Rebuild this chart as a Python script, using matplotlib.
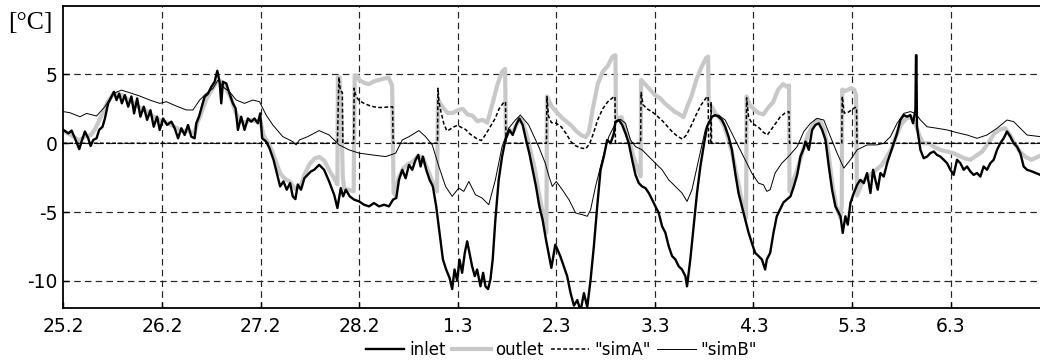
import matplotlib
matplotlib.use("Agg")
import matplotlib.pyplot as plt

# ---- data (days since 25.2) ----
xtick_pos = [0, 1, 2, 3, 4, 5, 6, 7, 8, 9]
xtick_labels = ['25.2', '26.2', '27.2', '28.2', '1.3', '2.3', '3.3', '4.3', '5.3', '6.3']
ytick_pos = [-10, -5, 0, 5]
ytick_labels = ['-10', '-5', '0', '5']

inlet_t = [0.000, 0.051, 0.084, 0.118, 0.162, 0.185, 0.219, 0.253, 0.277, 0.304, 0.337, 0.364, 0.398, 0.422,
           0.455, 0.489, 0.513, 0.540, 0.567, 0.594, 0.624, 0.658, 0.691, 0.718, 0.749, 0.782, 0.816, 0.850,
           0.884, 0.917, 0.951, 0.978, 1.012, 1.052, 1.096, 1.130, 1.164, 1.197, 1.231, 1.265, 1.298, 1.332,
           1.349, 1.376, 1.400, 1.433, 1.467, 1.501, 1.535, 1.562, 1.585, 1.602, 1.619, 1.653, 1.686, 1.720,
           1.747, 1.771, 1.804, 1.838, 1.872, 1.906, 1.939, 1.973, 1.997, 2.017, 2.057, 2.091, 2.132, 2.165,
           2.199, 2.233, 2.266, 2.300, 2.327, 2.354, 2.378, 2.411, 2.445,
           2.511, 2.544, 2.595, 2.645, 2.696, 2.747, 2.780, 2.814, 2.838, 2.865, 2.905, 2.949, 3.000, 3.050,
           3.101, 3.151, 3.202, 3.253, 3.303, 3.344, 3.377, 3.404, 3.438, 3.472, 3.506, 3.539, 3.573, 3.600,
           3.624, 3.647, 3.681, 3.715, 3.748, 3.782, 3.816, 3.850, 3.883, 3.917, 3.944, 3.968, 3.995, 4.018,
           4.045, 4.072, 4.096, 4.119, 4.146, 4.173, 4.197, 4.231, 4.258, 4.281, 4.308, 4.332, 4.355, 4.382,
           4.416, 4.450, 4.484, 4.524, 4.558, 4.592, 4.625, 4.659, 4.693, 4.726, 4.760, 4.794, 4.828, 4.861,
           4.895, 4.950, 4.990, 5.040, 5.110, 5.145, 5.179, 5.213, 5.246, 5.280, 5.314, 5.348, 5.381, 5.415,
           5.449, 5.482, 5.516, 5.550, 5.584, 5.600, 5.634, 5.668, 5.702, 5.735, 5.769, 5.803, 5.837, 5.870,
           5.904, 5.938, 5.972, 6.005, 6.039, 6.073, 6.106, 6.140, 6.174, 6.208, 6.241, 6.275, 6.309, 6.326,
           6.359, 6.393, 6.427, 6.461, 6.494, 6.528, 6.579, 6.612, 6.646, 6.680, 6.713, 6.747, 6.781, 6.815,
           6.848, 6.882, 6.916, 6.950, 6.983, 7.017, 7.051, 7.085, 7.118, 7.135, 7.169, 7.203, 7.236, 7.270,
           7.304, 7.375, 7.409, 7.443, 7.476, 7.510, 7.527, 7.561, 7.595, 7.628, 7.662, 7.696, 7.730, 7.764,
           7.797, 7.831, 7.865, 7.882, 7.905, 7.932, 7.956, 7.983, 8.017, 8.051, 8.084, 8.118, 8.152, 8.186,
           8.213, 8.236, 8.260, 8.287, 8.321, 8.355, 8.389, 8.422, 8.456, 8.490, 8.524, 8.557, 8.591, 8.618,
           8.642, 8.648, 8.652, 8.658, 8.693, 8.726, 8.760, 8.794, 8.828, 8.861, 8.895, 8.929, 8.963, 8.997,
           9.030, 9.064, 9.098, 9.132, 9.166, 9.199, 9.233, 9.267, 9.301, 9.334, 9.368, 9.402, 9.436, 9.470,
           9.503, 9.537, 9.571, 9.605, 9.639, 9.672, 9.706, 9.740, 9.774, 9.824, 9.909]
inlet_v = [0.97, 0.72, 0.92, 0.36, -0.43, 0.12, 0.85, 0.36, -0.20, 0.24, 0.36, 0.97, 1.20, 1.80,
           2.90, 3.40, 3.74, 3.14, 3.60, 2.90, 3.50, 2.66, 3.40, 2.17, 3.26, 1.93, 2.66, 1.70,
           2.40, 1.20, 1.93, 0.97, 1.80, 1.33, 1.57, 1.09, 0.36, 1.09, 0.60, 1.33, 0.48, 0.36,
           1.45, 1.93, 2.54, 3.38, 3.60, 4.10, 4.47, 5.27, 4.47, 2.90, 4.47, 4.35, 3.60, 2.90,
           2.54, 0.97, 1.93, 0.97, 1.80, 1.57, 1.80, 1.45, 2.17, 0.36, 0.12, -0.36, -1.20, -2.17,
           -3.14, -2.78, -3.38, -2.90, -3.86, -4.06, -3.00, -3.38, -2.54,
           -2.05, -1.93, -1.57, -1.93, -2.78, -3.74, -4.71, -3.26, -3.86, -3.38, -3.86, -4.10, -4.23, -4.47,
           -4.59, -4.35, -4.59, -4.47, -4.59, -4.10, -3.98, -2.66, -1.93, -2.54, -1.57, -1.93, -1.20, -0.85,
           -1.69, -0.97, -1.93, -2.66, -3.14, -4.59, -6.50, -8.45, -9.18, -9.78, -10.60, -9.18, -10.00, -8.45,
           -9.42, -7.97, -7.13, -7.97, -8.94, -9.66, -9.18, -10.40, -9.42, -10.40, -10.60, -9.90, -8.45, -5.56,
           -2.66, -0.97, 0.24, 0.97, 0.60, 1.33, 1.80, 1.33, 0.24, -0.72, -1.93, -3.14, -4.59, -5.56,
           -7.00, -9.06, -7.37, -8.20, -9.66, -10.90, -11.80, -11.40, -12.20, -10.90, -11.90, -9.90, -7.49, -4.59,
           -1.93, -0.97, 0.24, 0.00, 0.72, 1.57, 1.69, 1.33, 0.72, 0.00, -1.20, -2.30, -2.90, -3.14,
           -3.26, -3.62, -4.10, -4.59, -5.07, -6.04, -6.50, -7.49, -8.20, -8.45, -8.94, -9.18, -9.66, -10.40,
           -8.45, -6.04, -3.62, -1.69, -0.24, 1.20, 1.93, 2.05, 1.93, 1.69, 1.20, 0.48, -0.48, -2.17,
           -3.62, -4.59, -5.56, -6.50, -7.25, -7.97, -8.20, -8.45, -9.18, -8.45, -7.97, -6.50, -5.31, -4.80,
           -4.30, -3.86, -3.14, -2.30, -0.97, -0.36, 0.12, -0.48, 0.97, 1.33, 1.45, 0.97, 0.24, -1.69,
           -3.38, -4.59, -5.07, -5.31, -6.52, -5.31, -5.92, -4.35, -3.62, -3.02, -2.66, -2.90, -2.17, -3.62,
           -1.93, -2.66, -3.38, -2.17, -2.42, -1.45, -0.72, 0.00, 0.72, 1.69, 2.05, 1.93, 2.05, 1.45,
           2.40, 6.40, 6.40, 1.20, -0.48, -1.09, -0.97, -0.72, -0.60, -0.85, -0.97, -1.20, -1.45, -1.93,
           -2.30, -1.20, -1.45, -1.93, -1.69, -2.05, -2.30, -2.17, -2.42, -1.69, -1.93, -1.45, -1.20, -0.48,
           0.00, 0.36, 0.85, 0.48, 0.00, -0.24, -0.72, -1.69, -1.93, -2.05, -2.30]

outlet_t = [0.00, 0.05, 0.10, 0.16, 0.22, 0.28, 0.32, 0.36, 0.40, 0.45, 0.50, 0.55, 0.60, 0.65, 0.70, 0.75,
            0.80, 0.85, 0.90, 0.95, 1.00, 1.05, 1.10, 1.15, 1.20, 1.25, 1.30, 1.33, 1.36, 1.40, 1.45, 1.50,
            1.55, 1.60, 1.65, 1.70, 1.75, 1.80, 1.85, 1.90, 1.95, 2.00, 2.03, 2.08, 2.12, 2.16, 2.20, 2.25,
            2.30, 2.35, 2.40, 2.45, 2.50, 2.55, 2.60, 2.65, 2.70, 2.75, 2.78, 2.785, 2.80, 2.82, 2.835, 2.85,
            2.90, 2.945, 2.955, 2.98, 3.00, 3.05, 3.10, 3.15, 3.20, 3.25, 3.30, 3.335, 3.35, 3.37, 3.40, 3.45,
            3.50, 3.55, 3.60, 3.65, 3.70, 3.75, 3.79, 3.80, 3.82, 3.86, 3.90, 3.95, 4.00, 4.05, 4.10, 4.15,
            4.20, 4.25, 4.30, 4.35, 4.40, 4.45, 4.48, 4.49, 4.52, 4.56, 4.60, 4.63, 4.66, 4.70, 4.74, 4.78,
            4.82, 4.86, 4.90, 4.905, 4.95, 5.00, 5.05, 5.10, 5.15, 5.20, 5.25, 5.30, 5.33, 5.37, 5.42, 5.47,
            5.52, 5.57, 5.60, 5.605, 5.63, 5.66, 5.70, 5.74, 5.78, 5.82, 5.855, 5.86, 5.90, 5.95, 6.00, 6.05,
            6.10, 6.15, 6.20, 6.25, 6.29, 6.33, 6.37, 6.42, 6.47, 6.52, 6.54, 6.545, 6.58, 6.62, 6.66, 6.70,
            6.74, 6.78, 6.82, 6.86, 6.90, 6.925, 6.93, 6.96, 7.00, 7.05, 7.10, 7.15, 7.20, 7.25, 7.30, 7.34,
            7.36, 7.365, 7.40, 7.45, 7.50, 7.55, 7.60, 7.64, 7.68, 7.72, 7.76, 7.80, 7.84, 7.88, 7.895, 7.90,
            7.93, 7.96, 7.99, 8.02, 8.04, 8.05, 8.10, 8.15, 8.20, 8.25, 8.30, 8.35, 8.40, 8.45, 8.50, 8.55,
            8.60, 8.64, 8.68, 8.72, 8.78, 8.84, 8.90, 8.96, 9.02, 9.08, 9.14, 9.20, 9.26, 9.32, 9.38, 9.44,
            9.50, 9.55, 9.60, 9.64, 9.70, 9.76, 9.82, 9.91]
outlet_v = [0.9, 0.7, 0.5, 0.2, 0.5, 0.6, 1.0, 1.6, 2.2, 3.0, 3.5, 3.6, 3.5, 3.2, 3.0, 2.7,
            2.5, 2.3, 2.0, 1.8, 1.6, 1.5, 1.3, 1.1, 0.9, 0.9, 0.8, 0.7, 1.5, 2.2, 3.2, 3.8,
            4.4, 4.5, 4.0, 3.3, 2.2, 1.6, 1.5, 1.7, 1.6, 1.6, 0.6, 0.0, -0.6, -1.4, -2.2, -2.6,
            -2.8, -3.3, -3.2, -2.2, -1.5, -1.1, -1.0, -1.3, -2.0, -2.6, -3.0, 4.8, 4.8, 2.0, -2.5, -3.3,
            -3.4, -3.5, 4.95, 4.9, 4.6, 4.4, 4.3, 4.5, 4.6, 4.7, 4.75, 4.2, -3.6, -3.8, -2.5, -1.8,
            -1.5, -1.3, -0.9, -1.1, -2.0, -2.9, -3.5, 3.2, 2.9, 2.5, 2.2, 2.2, 2.4, 2.5, 2.1, 2.0,
            1.6, 1.7, 1.5, 2.8, 4.2, 5.2, 5.4, 0.5, 1.0, 0.8, 1.4, 1.8, 1.5, 0.6, -0.6, -1.8,
            -3.5, -5.0, -6.5, 3.4, 2.7, 2.3, 1.9, 1.6, 1.3, 0.9, 0.6, 0.45, 0.8, 2.5, 4.3, 5.2,
            5.6, 6.3, 6.4, 2.0, 1.8, 1.9, 1.0, 0.2, -0.9, -1.8, -2.4, 4.6, 4.3, 3.9, 3.5, 3.3,
            2.9, 2.6, 2.3, 2.1, 1.9, 2.7, 3.4, 4.6, 5.5, 6.2, 6.3, 2.9, 2.6, 2.1, 1.8, 1.3,
            0.4, -0.6, -2.0, -3.4, -4.8, -5.4, 3.4, 2.8, 2.5, 2.2, 2.1, 2.6, 3.0, 3.9, 4.3, 4.1,
            4.2, -3.5, -2.8, -1.8, -0.5, 0.6, 1.3, 1.7, 1.6, 0.9, -0.7, -3.0, -4.6, -5.4, -4.5, 3.9,
            3.8, 3.9, 4.0, 3.9, 3.5, -3.8, -2.9, -2.5, -2.2, -1.9, -1.6, -1.0, -0.4, 0.6, 1.4, 1.8,
            1.9, 1.5, 0.6, 0.0, 0.0, -0.3, -0.5, -0.6, -0.7, -0.9, -1.1, -1.2, -0.9, -0.6, 0.0, 0.7,
            1.0, 1.1, 0.6, 0.1, -0.6, -1.0, -1.2, -0.9]

simA_t = [0.00, 2.78, 2.795, 2.80, 2.81, 2.83, 2.835, 2.945, 2.95, 2.96, 2.98, 3.00, 3.05, 3.10, 3.15,
          3.20, 3.25, 3.30, 3.34, 3.345, 3.795, 3.80, 3.81, 3.83, 3.86, 3.89, 3.92, 3.95, 3.98, 4.00,
          4.05, 4.08, 4.12, 4.16, 4.20, 4.24, 4.28, 4.33, 4.38, 4.42, 4.47, 4.485, 4.49, 4.90, 4.905,
          4.92, 4.95, 5.00, 5.05, 5.10, 5.15, 5.20, 5.25, 5.30, 5.34, 5.38, 5.42, 5.47, 5.52, 5.57,
          5.595, 5.60, 5.855, 5.86, 5.88, 5.92, 5.97, 6.02, 6.08, 6.13, 6.18, 6.23, 6.28, 6.32, 6.37,
          6.42, 6.47, 6.52, 6.54, 6.545, 6.565, 6.57, 6.575, 6.925, 6.93, 6.95, 6.98, 7.02, 7.06, 7.10,
          7.14, 7.18, 7.22, 7.27, 7.32, 7.36, 7.365, 7.895, 7.90, 7.92, 7.95, 7.99, 8.03, 8.045, 8.05, 9.91]
simA_v = [0.0, 0.0, 4.8, 4.5, 3.8, 3.7, 0.0, 0.0, 4.0, 3.6, 3.3, 3.1, 2.9, 2.75, 2.65,
          2.6, 2.6, 2.65, 2.65, 0.0, 0.0, 4.0, 3.0, 2.3, 1.4, 0.9, 1.0, 1.15, 1.25, 1.3,
          1.1, 1.0, 0.7, 0.5, 0.3, 0.2, 0.6, 1.2, 1.8, 2.5, 3.0, 3.0, 0.0, 0.0, 3.4,
          2.0, 1.5, 1.45, 1.2, 0.7, 0.1, -0.2, -0.35, -0.4, 0.0, 0.8, 1.7, 2.5, 3.0, 3.3,
          3.4, 0.0, 0.0, 3.7, 2.8, 2.5, 2.3, 2.0, 1.6, 1.2, 0.8, 0.5, 0.3, 0.6, 1.3,
          2.1, 2.8, 3.3, 3.4, 0.0, 0.0, 3.0, 0.0, 0.0, 3.3, 1.9, 1.5, 1.3, 1.1, 0.8,
          0.6, 1.0, 1.4, 1.9, 2.2, 2.3, 0.0, 0.0, 3.4, 2.2, 2.2, 2.4, 2.6, 2.6, 0.0, 0.0]

simB_t = [0.000, 0.067, 0.169, 0.236, 0.337, 0.422, 0.506, 0.590, 0.675, 0.776, 0.877, 0.978, 1.046,
          1.147, 1.248, 1.315, 1.383, 1.450, 1.518, 1.568, 1.619, 1.686, 1.754, 1.838, 1.922, 1.990,
          2.057, 2.125, 2.226, 2.327, 2.361, 2.395, 2.479, 2.595, 2.696, 2.797, 2.898, 3.000, 3.135,
          3.269, 3.371, 3.438, 3.506, 3.607, 3.674, 3.742, 3.809, 3.877, 3.944, 4.011, 4.062, 4.113,
          4.180, 4.247, 4.315, 4.382, 4.450, 4.517, 4.585, 4.635, 4.720, 4.821, 4.888, 4.926, 4.960,
          5.000, 5.061, 5.128, 5.196, 5.263, 5.314, 5.348, 5.398, 5.466, 5.533, 5.600, 5.651, 5.702,
          5.752, 5.803, 5.870, 5.938, 6.005, 6.073, 6.140, 6.208, 6.275, 6.326, 6.376, 6.444, 6.511,
          6.579, 6.646, 6.713, 6.781, 6.848, 6.916, 6.983, 7.051, 7.101, 7.135, 7.169, 7.219, 7.287,
          7.354, 7.443, 7.510, 7.578, 7.645, 7.713, 7.780, 7.848, 7.916, 7.983, 8.051, 8.152, 8.253,
          8.321, 8.389, 8.456, 8.524, 8.591, 8.642, 8.693, 8.760, 8.861, 8.963, 9.064, 9.166, 9.267,
          9.368, 9.470, 9.571, 9.639, 9.706, 9.774, 9.909]
simB_v = [2.30, 2.22, 1.93, 2.17, 1.98, 2.66, 3.62, 3.86, 3.67, 3.43, 3.14, 2.90, 3.02,
          2.70, 2.42, 2.42, 3.14, 3.62, 3.98, 4.59, 4.10, 3.74, 3.14, 2.90, 3.14, 3.02,
          2.05, 1.33, 0.48, 0.12, -0.12, 0.24, 0.48, 0.92, 0.60, -0.12, -0.48, -0.72, -0.85,
          -0.97, -0.72, 0.24, 0.48, 0.92, 0.48, -0.12, -1.69, -3.14, -3.86, -3.26, -3.50, -2.78,
          -3.74, -3.98, -4.47, -2.66, -0.24, 1.09, 1.69, 2.05, 1.33, -0.24, -1.45, -2.42, -3.14,
          -2.78, -3.38, -4.10, -5.07, -5.19, -5.31, -4.83, -3.14, -1.20, 0.48, 1.45, 1.74, 1.45,
          0.24, -0.24, -0.48, -0.97, -1.45, -1.93, -2.66, -3.14, -3.62, -4.23, -3.38, -1.20, 0.97,
          1.93, 2.05, 1.69, 0.72, -0.24, -1.20, -2.17, -2.90, -3.02, -3.50, -3.38, -2.17, -1.45,
          -0.97, -0.24, 0.85, 1.45, 1.81, 1.69, 0.48, -0.72, -1.81, -1.20, -0.48, -0.12, -0.12,
          0.00, 0.48, 1.45, 2.17, 2.30, 2.17, 1.69, 1.20, 1.09, 0.97, 0.77, 0.60, 0.36,
          0.60, 1.09, 1.69, 1.57, 1.09, 0.60, 0.48]

# ---- figure ----
fig = plt.figure(figsize=(10.4, 3.61), dpi=100)
ax = fig.add_axes([63.3 / 1040, 52.7 / 361, 1 - 63.3 / 1040, 302.6 / 361])

grid_ls = (0, (5.5, 3.6))
for xv in xtick_pos[1:]:
    ax.axvline(xv, color='#222222', lw=0.85, ls=grid_ls, zorder=1)
for yv in ytick_pos:
    ax.axhline(yv, color='#222222', lw=0.85, ls=grid_ls, zorder=1)

ax.plot(outlet_t, outlet_v, color='#c8c8c8', lw=3.0, solid_joinstyle='round', label='outlet', zorder=2)
ax.plot(inlet_t, inlet_v, color='black', lw=1.7, label='inlet', zorder=3)
ax.plot(simB_t, simB_v, color='black', lw=0.7, label='"simB"', zorder=4)
ax.plot(simA_t, simA_v, color='black', lw=1.1, ls=(0, (2.5, 1.5)), label='"simA"', zorder=5)

ax.set_xlim(0, (1040 - 63.3) / 98.6)
ax.set_ylim(-12, 10)
ax.set_xticks(xtick_pos)
ax.set_xticklabels(xtick_labels)
ax.set_yticks(ytick_pos)
ax.set_yticklabels(ytick_labels)
ax.tick_params(axis='both', direction='in', length=4, width=1, labelsize=13.5, colors='black')
ax.tick_params(axis='x', pad=6)
ax.tick_params(axis='y', pad=4)
for s in ['left', 'bottom', 'top']:
    ax.spines[s].set_linewidth(1.3)
ax.spines['right'].set_visible(False)

fig.text(8 / 1040, 1 - 23 / 361, '[°C]', family='Liberation Serif', fontsize=18.5, va='center', ha='left')

h, l = ax.get_legend_handles_labels()
order = [l.index('inlet'), l.index('outlet'), l.index('"simA"'), l.index('"simB"')]
ax.legend([h[i] for i in order], [l[i] for i in order], loc='center', bbox_to_anchor=(0.51, -0.138),
          ncol=4, frameon=False, fontsize=12, handlelength=2.3, handletextpad=0.3, columnspacing=0.4,
          borderaxespad=0)

fig.savefig('out.png', dpi=100)
